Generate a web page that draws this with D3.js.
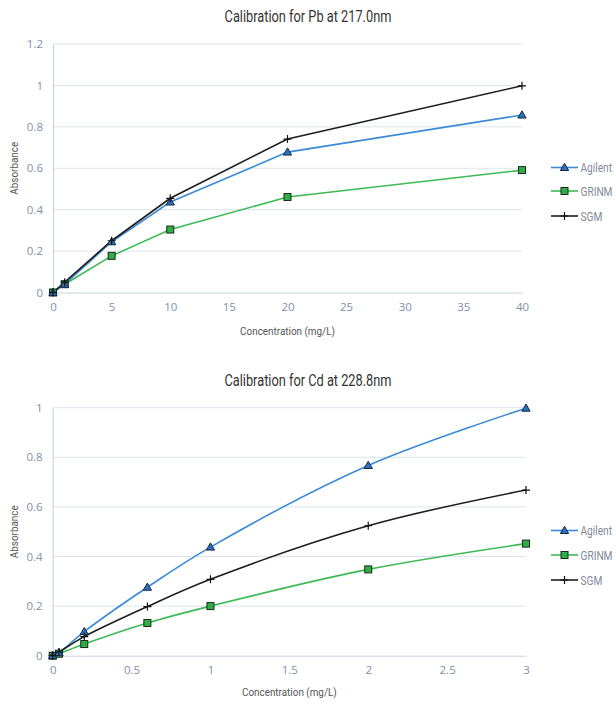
<!DOCTYPE html>
<html>
<head>
<meta charset="utf-8">
<script src="https://cdn.jsdelivr.net/npm/d3@7"></script>
<style>
  html, body { margin: 0; padding: 0; background: #ffffff; }
  svg { display: block; }
  .title { font-family: Roboto, "Liberation Sans", sans-serif; font-size: 16px; fill: #333; }
  .tick text { font-family: "Open Sans", "Liberation Sans", sans-serif; font-size: 11.5px; fill: #7f90ab; }
  .axlabel { font-family: Roboto, "Liberation Sans", sans-serif; font-size: 11.5px; fill: #555; }
  .legend text { font-family: Roboto, "Liberation Sans", sans-serif; font-size: 13px; fill: #7f8a99; }
</style>
</head>
<body>
<svg id="chart" width="616" height="706"></svg>
<script>
// ---------- Data ----------
const seriesNames = ["Agilent", "GRINM", "SGM"];

// Pb at 217.0 nm
const pbTitle = "Calibration for Pb at 217.0nm";
const pbConc = [0, 1, 5, 10, 20, 40];
const pbAgilent = [0, 0.04, 0.245, 0.437, 0.678, 0.857];
const pbGRINM = [0, 0.04, 0.177, 0.304, 0.461, 0.591];
const pbSGM = [0, 0.05, 0.25, 0.455, 0.741, 0.998];
const pbXTicks = [0, 5, 10, 15, 20, 25, 30, 35, 40];
const pbYTicks = [0, 0.2, 0.4, 0.6, 0.8, 1, 1.2];

// Cd at 228.8 nm
const cdTitle = "Calibration for Cd at 228.8nm";
const cdConc = [0, 0.04, 0.2, 0.6, 1, 2, 3];
const cdAgilent = [0, 0.012, 0.097, 0.276, 0.438, 0.767, 0.998];
const cdGRINM = [0, 0.008, 0.047, 0.132, 0.2, 0.348, 0.452];
const cdSGM = [0, 0.015, 0.077, 0.198, 0.308, 0.524, 0.668];
const cdXTicks = [0, 0.5, 1, 1.5, 2, 2.5, 3];
const cdYTicks = [0, 0.2, 0.4, 0.6, 0.8, 1];

const xLabel = "Concentration (mg/L)";
const yLabel = "Absorbance";

// ---------- Styles ----------
const lineColors = { Agilent: "#3b8ad6", GRINM: "#3dba55", SGM: "#1e1e1e" };
const markerFill = { Agilent: "#2a6fc0", GRINM: "#2fae48", SGM: "#1e1e1e" };

const svg = d3.select("#chart");

function fmt(d) { return String(d); }

function marker(g, name, cx, cy) {
  if (name === "Agilent") {
    g.append("path")
      .attr("d", d3.symbol().type(d3.symbolTriangle).size(30)())
      .attr("transform", `translate(${cx},${cy + 0.6})`)
      .attr("fill", markerFill.Agilent)
      .attr("stroke", "#1b2a40").attr("stroke-width", 1);
  } else if (name === "GRINM") {
    g.append("rect")
      .attr("x", cx - 3.5).attr("y", cy - 3.5).attr("width", 7).attr("height", 7)
      .attr("fill", markerFill.GRINM)
      .attr("stroke", "#1a2a1a").attr("stroke-width", 1);
  } else {
    g.append("path")
      .attr("d", `M${cx - 4},${cy}H${cx + 4}M${cx},${cy - 4}V${cy + 4}`)
      .attr("stroke", "#111").attr("stroke-width", 1.2).attr("fill", "none");
  }
}

function drawChart(cfg) {
  const g = svg.append("g");
  const x = d3.scaleLinear().domain(cfg.xDomain).range([cfg.left, cfg.right]);
  const y = d3.scaleLinear().domain(cfg.yDomain).range([cfg.bottom, cfg.top]);

  // title
  g.append("text").attr("class", "title")
    .attr("transform", `translate(308,${cfg.titleY}) scale(0.8,1)`)
    .attr("text-anchor", "middle").text(cfg.title);

  // gridlines
  g.append("g").selectAll("line").data(cfg.yTicks.filter(d => d !== 0)).join("line")
    .attr("x1", cfg.left).attr("x2", cfg.right)
    .attr("y1", d => y(d)).attr("y2", d => y(d))
    .attr("stroke", "#dde4ee").attr("stroke-width", 1);

  // y axis
  const yAxis = g.append("g").attr("transform", `translate(${cfg.left},0)`)
    .call(d3.axisLeft(y).tickValues(cfg.yTicks).tickFormat(fmt).tickSize(0).tickPadding(10));
  yAxis.select(".domain").attr("stroke", "#c2cfe0");

  // x axis
  const xAxis = g.append("g").attr("transform", `translate(0,${cfg.bottom})`)
    .call(d3.axisBottom(x).tickValues(cfg.xTicks).tickFormat(fmt).tickSize(0).tickPadding(10));
  xAxis.select(".domain").attr("stroke", "#c8d2e0");

  // axis labels
  g.append("text").attr("class", "axlabel")
    .attr("transform", `translate(${(cfg.left + cfg.right) / 2},${cfg.xLabelY}) scale(0.86,1)`)
    .attr("text-anchor", "middle").text(xLabel);
  g.append("text").attr("class", "axlabel")
    .attr("transform", `translate(18,${(cfg.top + cfg.bottom) / 2}) rotate(-90) scale(0.86,1)`)
    .attr("text-anchor", "middle").text(yLabel);

  // series
  const line = d3.line().x(d => x(d[0])).y(d => y(d[1])).curve(cfg.curve);
  const order = ["GRINM", "Agilent", "SGM"];
  order.forEach(name => {
    const vals = cfg.series[name];
    const pts = cfg.conc.map((c, i) => [c, vals[i]]);
    g.append("path").datum(pts).attr("d", line)
      .attr("fill", "none").attr("stroke", lineColors[name]).attr("stroke-width", 1.6);
  });
  order.forEach(name => {
    const vals = cfg.series[name];
    const mg = g.append("g");
    cfg.conc.forEach((c, i) => marker(mg, name, x(c), y(vals[i])));
  });

  // legend
  const lg = g.append("g").attr("class", "legend");
  seriesNames.forEach((name, i) => {
    const ly = cfg.legendY[i];
    lg.append("line").attr("x1", 551).attr("x2", 578).attr("y1", ly).attr("y2", ly)
      .attr("stroke", lineColors[name]).attr("stroke-width", 1.6);
    marker(lg, name, 564.5, ly);
    lg.append("text").attr("transform", `translate(580.5,${ly + 4.5}) scale(0.78,1)`).text(name);
  });
}

drawChart({
  title: pbTitle, titleY: 22,
  left: 53, right: 522, top: 44, bottom: 292.5,
  xDomain: [0, 40], yDomain: [0, 1.2],
  xTicks: pbXTicks, yTicks: pbYTicks,
  conc: pbConc,
  series: { Agilent: pbAgilent, GRINM: pbGRINM, SGM: pbSGM },
  curve: d3.curveLinear,
  xLabelY: 335,
  legendY: [167.5, 191, 216]
});

drawChart({
  title: cdTitle, titleY: 386,
  left: 52.7, right: 526, top: 407.7, bottom: 655.7,
  xDomain: [0, 3], yDomain: [0, 1],
  xTicks: cdXTicks, yTicks: cdYTicks,
  conc: cdConc,
  series: { Agilent: cdAgilent, GRINM: cdGRINM, SGM: cdSGM },
  curve: d3.curveCatmullRom.alpha(0.5),
  xLabelY: 696,
  legendY: [530.5, 555, 580]
});
</script>
</body>
</html>
